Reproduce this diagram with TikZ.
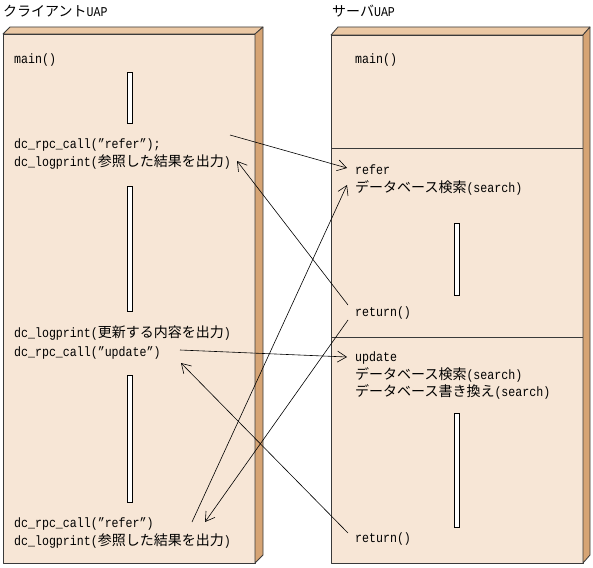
\documentclass[tikz,border=0pt]{standalone}
\usepackage{fontspec}
\setmainfont{Liberation Mono}[FakeStretch=0.86]
\newfontfamily\jpfont{Noto Sans CJK JP}
\usetikzlibrary{arrows.meta}
\newcommand{\J}[1]{{\jpfont\fontsize{14}{19}\selectfont #1}}
\definecolor{frontc}{HTML}{F7E6D6}
\definecolor{topc}{HTML}{EBC8A4}
\definecolor{sidec}{HTML}{D6A474}
\definecolor{edgec}{HTML}{3A3A3A}
\begin{document}
\begin{tikzpicture}[x=1pt,y=-1pt,
  txt/.style={anchor=base west,inner sep=0pt,font=\fontsize{13.5}{19}\selectfont},
  face/.style={draw=edgec,line width=0.8pt,line join=round},
  lifebar/.style={draw=black,fill=white,line width=0.7pt},
  msg/.style={draw=black,line width=0.6pt,-{Straight Barb[length=9pt,width=11pt,line width=0.6pt]}}]
\useasboundingbox (0,0) rectangle (593,567);
% titles
\node[txt] (ctitle) at (3,17) {\J{クライアント}UAP};
\node[txt] (stitle) at (332,17) {\J{サーバ}UAP};
% client box
\filldraw[face,fill=frontc] (3,34) rectangle (255,563);
\filldraw[face,fill=topc] (3,34) -- (10,27) -- (263,27) -- (255,34) -- cycle;
\filldraw[face,fill=sidec] (255,34) -- (263,27) -- (263,555) -- (255,563) -- cycle;
% server box
\filldraw[face,fill=frontc] (331,35) rectangle (583,563);
\filldraw[face,fill=topc] (331,35) -- (338,27) -- (590,27) -- (583,35) -- cycle;
\filldraw[face,fill=sidec] (583,35) -- (590,27) -- (590,555) -- (583,563) -- cycle;
\draw[face] (331,148) -- (583,148);
\draw[face] (331,337) -- (583,337);
% activity bars
\draw[lifebar] (127,72) rectangle (132,123);
\draw[lifebar] (127,186) rectangle (132,311);
\draw[lifebar] (127,375) rectangle (132,502);
\draw[lifebar] (454,223) rectangle (459,295);
\draw[lifebar] (454,413) rectangle (459,527);
% client texts
\node[txt] (cmain) at (14,64) {main()};
\node[txt] (call1) at (14,148) {dc\_rpc\_call(”refer”);};
\node[txt] (log1) at (14,166) {dc\_logprint(\J{参照した結果を出力})};
\node[txt] (log2) at (14,337) {dc\_logprint(\J{更新する内容を出力})};
\node[txt] (call2) at (14,356) {dc\_rpc\_call(”update”)};
\node[txt] (call3) at (14,527) {dc\_rpc\_call(”refer”)};
\node[txt] (log3) at (14,545) {dc\_logprint(\J{参照した結果を出力})};
% server texts
\node[txt] (smain) at (355,64) {main()};
\node[txt] (refer) at (355,174) {refer};
\node[txt] (srch1) at (355,192) {\J{データベース検索}(search)};
\node[txt] (ret1) at (355,316) {return()};
\node[txt] (upd) at (355,361) {update};
\node[txt] (srch2) at (355,379) {\J{データベース検索}(search)};
\node[txt] (rewr) at (355,396) {\J{データベース書き換え}(search)};
\node[txt] (ret2) at (355,542) {return()};
% connector end points
\coordinate (c1s) at (230,135);
\coordinate (c1e) at (347,168);
\coordinate (r1s) at (348,305);
\coordinate (r1e) at (237,161);
\coordinate (u1s) at (180,350);
\coordinate (u1e) at (347,357);
\coordinate (r2s) at (348,533);
\coordinate (r2e) at (181,363);
\coordinate (c3s) at (192,522);
\coordinate (c3e) at (347,185);
\coordinate (r3s) at (348,320);
\coordinate (r3e) at (205,522);
% messages
\draw[msg] (c1s) -- (c1e);
\draw[msg] (r1s) -- (r1e);
\draw[msg] (u1s) -- (u1e);
\draw[msg] (r2s) -- (r2e);
\draw[msg] (c3s) -- (c3e);
\draw[msg] (r3s) -- (r3e);
\end{tikzpicture}
\end{document}
